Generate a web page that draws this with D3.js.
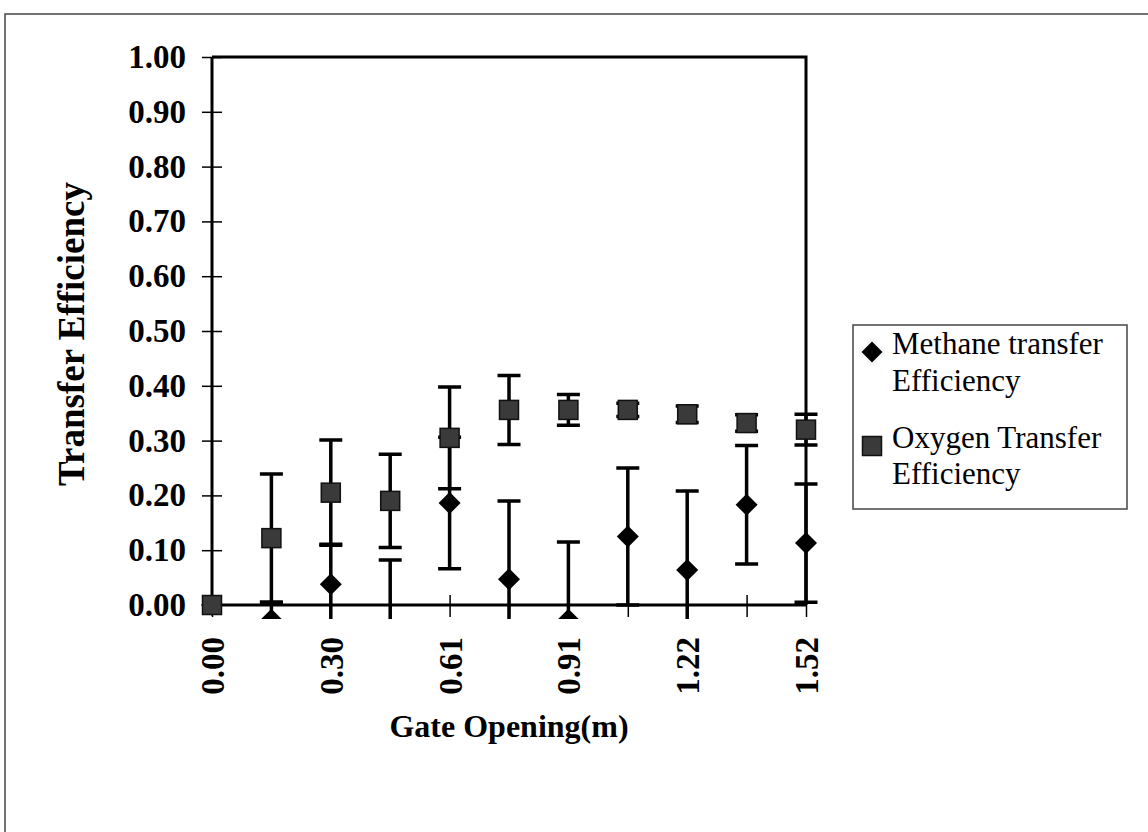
<!DOCTYPE html>
<html>
<head>
<meta charset="utf-8">
<script src="https://cdn.jsdelivr.net/npm/d3@7"></script>
<style>
  html, body { margin: 0; padding: 0; background: #fff; }
  svg { display: block; }
</style>
</head>
<body>
<svg id="chart" width="1148" height="832"></svg>
<script>
// Gate opening categories (m) and the labels shown on the x axis
const categories = ["0.00", "0.15", "0.30", "0.46", "0.61", "0.76", "0.91", "1.07", "1.22", "1.37", "1.52"];
const xTickLabels = ["0.00", "0.30", "0.61", "0.91", "1.22", "1.52"];
const yTicks = [0, 0.1, 0.2, 0.3, 0.4, 0.5, 0.6, 0.7, 0.8, 0.9, 1.0];

// Methane transfer efficiency and its error (+/-)
const methane    = [0, -0.027, 0.038, -0.05, 0.186, 0.047, -0.027, 0.125, 0.064, 0.183, 0.113];
const methaneErr = [0,  0.032, 0.073,  0.132, 0.12, 0.143,  0.142, 0.125, 0.144, 0.108, 0.108];

// Oxygen transfer efficiency and its error (+/-)
const oxygen    = [0, 0.122, 0.205, 0.19, 0.305, 0.356, 0.356, 0.356, 0.348, 0.332, 0.32];
const oxygenErr = [0, 0.117, 0.096, 0.085, 0.093, 0.063, 0.028, 0.012, 0.015, 0.015, 0.028];

const legendLabels = [["Methane transfer", "Efficiency"], ["Oxygen Transfer", "Efficiency"]];

const serif = "'Liberation Serif', 'Times New Roman', Times, serif";
const svg = d3.select("#chart");

const plot = { left: 212, right: 806, top: 57, bottom: 605 };
const x = d3.scalePoint().domain(categories).range([plot.left, plot.right]).padding(0);
const y = d3.scaleLinear().domain([0, 1]).range([plot.bottom, plot.top]);

// outer chart frame
svg.append("rect")
  .attr("x", 5).attr("y", 14).attr("width", 1160).attr("height", 840)
  .attr("fill", "#fff").attr("stroke", "#444").attr("stroke-width", 1.5);

// clip region for the data (lets markers spill slightly past the frame)
svg.append("defs").append("clipPath").attr("id", "dataClip")
  .append("rect").attr("x", 150).attr("y", 40).attr("width", 700).attr("height", 619 - 40);

// plot frame: top and right edges
svg.append("path")
  .attr("d", `M${plot.left},${plot.top}H${plot.right}V${plot.bottom}`)
  .attr("fill", "none").attr("stroke", "#000").attr("stroke-width", 3);

// y axis
const yAxis = svg.append("g")
  .attr("transform", `translate(${plot.left},0)`)
  .call(d3.axisLeft(y).tickValues(yTicks).tickFormat(d3.format(".2f")).tickSize(10).tickPadding(16));
yAxis.select(".domain").attr("stroke-width", 3).attr("d", `M0,${plot.top}V${plot.bottom}`);
yAxis.selectAll(".tick line").attr("x1", 10).attr("x2", -10).attr("stroke-width", 1.5);
yAxis.selectAll(".tick text")
  .attr("font-family", serif).attr("font-size", 33).attr("font-weight", "bold").attr("fill", "#000");

// x axis
const xAxis = svg.append("g")
  .attr("transform", `translate(0,${plot.bottom})`)
  .call(d3.axisBottom(x).tickFormat(d => xTickLabels.includes(d) ? d : "").tickSize(10));
xAxis.select(".domain").attr("stroke-width", 3).attr("d", `M${plot.left},0H${plot.right}`);
xAxis.selectAll(".tick line").attr("y1", -10).attr("y2", 12).attr("stroke-width", 1.5);
xAxis.selectAll(".tick text")
  .attr("transform", "rotate(-90)")
  .attr("x", -32).attr("y", 0).attr("dy", "0.35em")
  .attr("text-anchor", "end")
  .attr("font-family", serif).attr("font-size", 33).attr("font-weight", "bold").attr("fill", "#000");

// axis titles
svg.append("text")
  .attr("x", 509).attr("y", 737)
  .attr("text-anchor", "middle")
  .attr("font-family", serif).attr("font-size", 32).attr("font-weight", "bold")
  .text("Gate Opening(m)");
svg.append("text")
  .attr("transform", `translate(84,${(plot.top + plot.bottom) / 2 + 3}) rotate(-90)`)
  .attr("text-anchor", "middle")
  .attr("font-family", serif).attr("font-size", 37).attr("font-weight", "bold")
  .text("Transfer Efficiency");

const data = svg.append("g").attr("clip-path", "url(#dataClip)");
const capHalf = 11.5;

function errorBars(vals, errs, cls) {
  const g = data.append("g").attr("class", cls)
    .attr("stroke", "#000").attr("stroke-width", 3.5).attr("fill", "none");
  categories.forEach((c, i) => {
    if (errs[i] <= 0) return;
    const cx = x(c), hi = y(vals[i] + errs[i]), lo = y(vals[i] - errs[i]);
    g.append("path").attr("d",
      `M${cx},${hi}V${lo}M${cx - capHalf},${hi}H${cx + capHalf}M${cx - capHalf},${lo}H${cx + capHalf}`);
  });
}

const diamond = (cx, cy, r) => `M${cx},${cy - r}L${cx + r},${cy}L${cx},${cy + r}L${cx - r},${cy}Z`;

// methane series
errorBars(methane, methaneErr, "methane-err");
data.append("g").selectAll("path").data(categories).join("path")
  .attr("d", (c, i) => diamond(x(c), y(methane[i]), 11))
  .attr("fill", "#000");

// oxygen series
errorBars(oxygen, oxygenErr, "oxygen-err");
const sq = 19;
data.append("g").selectAll("rect").data(categories).join("rect")
  .attr("x", c => x(c) - sq / 2)
  .attr("y", (c, i) => y(oxygen[i]) - sq / 2)
  .attr("width", sq).attr("height", sq)
  .attr("fill", "#3a3a3a").attr("stroke", "#111").attr("stroke-width", 1.5);

// legend
const lg = svg.append("g");
lg.append("rect").attr("x", 853).attr("y", 325).attr("width", 274).attr("height", 184)
  .attr("fill", "#fff").attr("stroke", "#444").attr("stroke-width", 1.5);
lg.append("path").attr("d", diamond(872, 352, 10.5)).attr("fill", "#000");
lg.append("rect").attr("x", 872 - 9.5).attr("y", 446 - 9.5).attr("width", 19).attr("height", 19)
  .attr("fill", "#3a3a3a").attr("stroke", "#111").attr("stroke-width", 1.5);
const legendBaselines = [[354, 391], [448, 484]];
legendLabels.forEach((lines, i) => {
  lines.forEach((t, j) => {
    lg.append("text")
      .attr("x", 892).attr("y", legendBaselines[i][j])
      .attr("font-family", serif).attr("font-size", 31)
      .text(t);
  });
});
</script>
</body>
</html>
